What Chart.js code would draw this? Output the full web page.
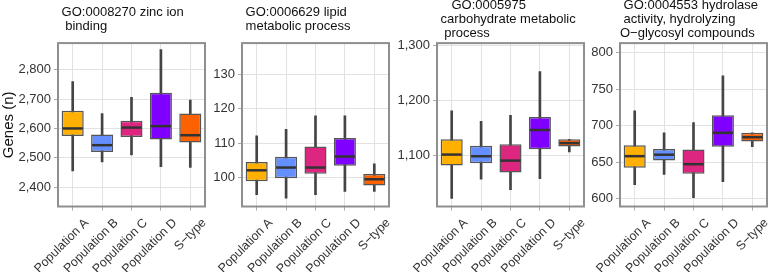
<!DOCTYPE html>
<html>
<head>
<meta charset="utf-8">
<script src="https://cdn.jsdelivr.net/npm/chart.js@4/dist/chart.umd.min.js"></script>
<style>
  html, body { margin: 0; padding: 0; background: #fff; }
  #wrap { position: relative; width: 768px; height: 272px; overflow: hidden; }
  .panel { position: absolute; left: 0; top: -2px; width: 768px; height: 274px; }
</style>
</head>
<body>
<div id="wrap">
  <div class="panel"><canvas id="zinc"></canvas></div>
  <div class="panel"><canvas id="lipid"></canvas></div>
  <div class="panel"><canvas id="carb"></canvas></div>
  <div class="panel"><canvas id="hydro"></canvas></div>
</div>
<script>
const categories = ["Population A", "Population B", "Population C", "Population D", "S\u2212type"]
const boxColors = ["#FFB000", "#648FFF", "#DC267F", "#7F00FF", "#FE6100"]

// GO:0008270 zinc ion binding
const zincLow = [2455, 2486, 2510, 2470, 2467]
const zincQ1 = [2574, 2520, 2571, 2562, 2552]
const zincMedian = [2600, 2543, 2603, 2608, 2577]
const zincQ3 = [2660, 2579, 2626, 2722, 2651]
const zincHigh = [2760, 2651, 2706, 2869, 2697]

// GO:0006629 lipid metabolic process
const lipidLow = [95, 94, 95, 96, 96]
const lipidQ1 = [98.9, 99.8, 101.1, 103.4, 97.7]
const lipidMedian = [102.1, 102.9, 102.9, 106.1, 99.5]
const lipidQ3 = [104.5, 106, 109, 111.5, 101]
const lipidHigh = [112.1, 114, 117.9, 117.9, 104]

// GO:0005975 carbohydrate metabolic process
const carbLow = [1021, 1056, 1037, 1057, 1106]
const carbQ1 = [1081, 1085, 1068, 1111, 1116]
const carbMedian = [1101, 1098, 1090, 1146, 1122]
const carbQ3 = [1129, 1117, 1120, 1170, 1129]
const carbHigh = [1181, 1162, 1173, 1253, 1129]

// GO:0004553 hydrolase activity, hydrolyzing O-glycosyl compounds
const hydroLow = [619, 633, 601, 623, 671]
const hydroQ1 = [642, 652, 634, 671, 678]
const hydroMedian = [658, 660, 647, 690, 684]
const hydroQ3 = [673, 668, 667, 714, 690]
const hydroHigh = [720, 690, 704, 768, 690]

Chart.defaults.font.family = "'Liberation Sans', Arial, sans-serif"
Chart.defaults.animation = false

const gridColor = "#e2e2e2"
const tickColor = "#aaaaaa"
const textColor = "#333333"

// medians and panel frame on top of the bars
const boxExtras = {
  id: "boxExtras",
  afterDatasetsDraw(chart) {
    const ctx = chart.ctx
    const yScale = chart.scales.y
    const medians = chart.data.datasets[0].medians
    const bars = chart.getDatasetMeta(0).data
    ctx.save()
    ctx.strokeStyle = "#333"
    ctx.lineWidth = 2.5
    bars.forEach((bar, i) => {
      const py = yScale.getPixelForValue(medians[i])
      ctx.beginPath()
      ctx.moveTo(bar.x - bar.width / 2 + 1, py)
      ctx.lineTo(bar.x + bar.width / 2 - 1, py)
      ctx.stroke()
    })
    const a = chart.chartArea
    ctx.strokeStyle = "#8f8f8f"
    ctx.lineWidth = 2
    ctx.strokeRect(a.left, a.top, a.right - a.left, a.bottom - a.top)
    ctx.restore()
  }
}

function makePanel(id, p) {
  const whiskers = p.low.map((v, i) => [v, p.high[i]])
  const boxes = p.q1.map((v, i) => [v, p.q3[i]])

  return new Chart(document.getElementById(id), {
    type: "bar",
    data: {
      labels: categories,
      datasets: [
        {
          data: boxes,
          medians: p.median,
          backgroundColor: boxColors,
          borderColor: "#555",
          borderWidth: 1.5,
          borderSkipped: false,
          grouped: false,
          barPercentage: 0.75,
          categoryPercentage: 1,
          order: 1,
        },
        {
          data: whiskers,
          backgroundColor: "#444",
          borderWidth: 0,
          grouped: false,
          barThickness: 2,
          order: 2,
        },
      ],
    },
    options: {
      responsive: true,
      maintainAspectRatio: false,
      layout: {
        padding: { left: p.padLeft, right: p.padRight, top: 0, bottom: 0 }
      },
      plugins: {
        legend: { display: false },
        tooltip: { enabled: false },
        title: {
          display: true,
          text: p.title,
          align: "start",
          fullSize: false,
          color: "#111",
          font: { size: 13, weight: "normal", lineHeight: 1.08 },
          padding: { top: p.titleTop, bottom: p.titleBottom },
        },
      },
      scales: {
        x: {
          type: "category",
          offset: true,
          border: { display: false },
          grid: { offset: false, color: gridColor, tickColor: tickColor, tickLength: 4 },
          ticks: {
            autoSkip: false,
            minRotation: 45,
            maxRotation: 45,
            padding: 5,
            labelOffset: 14,
            color: textColor,
            font: { size: 12.5 },
          },
          afterFit(s) {
            s.height = 65.5
            s.paddingLeft = 0
            s.paddingRight = 0
          },
        },
        y: {
          min: p.yMin,
          max: p.yMax,
          border: { display: false },
          grid: { color: gridColor, tickColor: tickColor, tickLength: 4 },
          ticks: {
            padding: 3,
            color: textColor,
            font: { size: 13 },
          },
          afterBuildTicks(s) {
            const ticks = []
            for (let v = Math.ceil(s.min / p.step) * p.step; v <= s.max; v += p.step) {
              ticks.push({ value: v })
            }
            s.ticks = ticks
          },
          title: {
            display: p.yTitle !== "",
            text: p.yTitle,
            color: "#111",
            font: { size: 15 },
            padding: 0,
          },
          afterFit(s) {
            s.width = p.yWidth
            s.paddingTop = 0
            s.paddingBottom = 0
          },
        },
      },
    },
    plugins: [boxExtras],
  })
}

makePanel("zinc", {
  title: [" GO:0008270 zinc ion", "  binding"],
  low: zincLow, q1: zincQ1, median: zincMedian, q3: zincQ3, high: zincHigh,
  yMin: 2334, yMax: 2891, step: 100, yTitle: "Genes (n)",
  yWidth: 58, padLeft: 0, padRight: 563, titleTop: 7, titleBottom: 10,
})

makePanel("lipid", {
  title: [" GO:0006629 lipid", " metabolic process"],
  low: lipidLow, q1: lipidQ1, median: lipidMedian, q3: lipidQ3, high: lipidHigh,
  yMin: 91.6, yMax: 139, step: 10, yTitle: "",
  yWidth: 36, padLeft: 206, padRight: 379, titleTop: 7, titleBottom: 10,
})

makePanel("carb", {
  title: ["    GO:0005975", " carbohydrate metabolic", "  process"],
  low: carbLow, q1: carbQ1, median: carbMedian, q3: carbQ3, high: carbHigh,
  yMin: 1006, yMax: 1305, step: 100, yTitle: "",
  yWidth: 48, padLeft: 389, padRight: 184, titleTop: 0, titleBottom: 3,
})

makePanel("hydro", {
  title: [" GO:0004553 hydrolase", " activity, hydrolyzing", "O\u2212glycosyl compounds"],
  low: hydroLow, q1: hydroQ1, median: hydroMedian, q3: hydroQ3, high: hydroHigh,
  yMin: 589, yMax: 813, step: 50, yTitle: "",
  yWidth: 36, padLeft: 584, padRight: 1, titleTop: 0, titleBottom: 3,
})
</script>
</body>
</html>
